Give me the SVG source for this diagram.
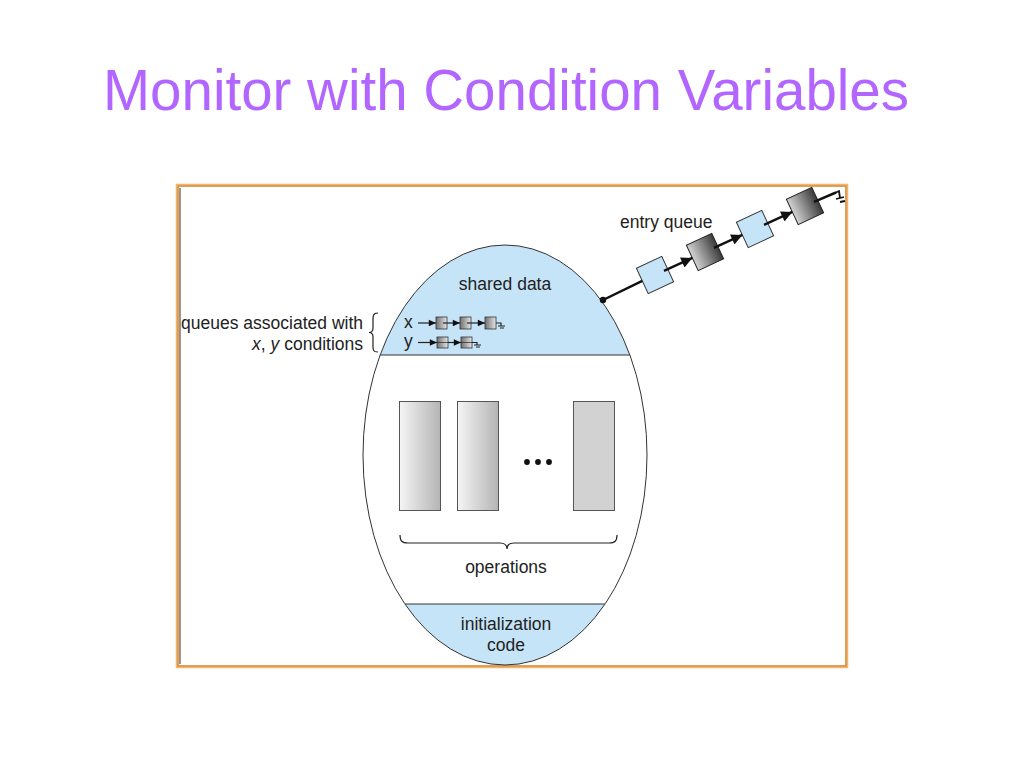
<svg xmlns="http://www.w3.org/2000/svg" width="1024" height="768" viewBox="0 0 1024 768">
<style>
.t{font-family:"Liberation Sans",Arial,sans-serif;font-size:17.5px;fill:#222}
.title{font-family:"Liberation Sans",Arial,sans-serif;font-size:56.5px;fill:#B266FF}
.ln{stroke:#111;stroke-width:2.5;fill:none}
.sl{stroke:#222;stroke-width:1.2;fill:none}
.bl{fill:#C6E4F7;stroke:#333;stroke-width:1}
.dk{fill:url(#gdark);stroke:#222;stroke-width:1}
.sq{fill:url(#gsmall);stroke:#333;stroke-width:0.8}
.op{stroke:#555;stroke-width:1}
</style>
<defs>
<linearGradient id="gdark" x1="0" y1="0" x2="1" y2="0">
<stop offset="0" stop-color="#d4d4d4"/><stop offset="1" stop-color="#3a3a3a"/>
</linearGradient>
<linearGradient id="gsmall" x1="0" y1="0" x2="1" y2="0">
<stop offset="0" stop-color="#707070"/><stop offset="1" stop-color="#e6e6e6"/>
</linearGradient>
<linearGradient id="gop" x1="0" y1="0" x2="1" y2="0">
<stop offset="0" stop-color="#f5f5f5"/><stop offset="1" stop-color="#b4b4b4"/>
</linearGradient>
<clipPath id="ell"><ellipse cx="505" cy="455" rx="142" ry="210"/></clipPath>
<marker id="ah" viewBox="0 0 10 10" refX="10" refY="5" markerWidth="5" markerHeight="4.4" orient="auto" markerUnits="strokeWidth">
<path d="M0,0 L10,5 L0,10 Z" fill="#111"/>
</marker>
<marker id="ahs" viewBox="0 0 10 10" refX="10" refY="5" markerWidth="7" markerHeight="6" orient="auto" markerUnits="strokeWidth">
<path d="M0,0.5 L10,5 L0,9.5 Z" fill="#111"/>
</marker>
</defs>
<rect width="1024" height="768" fill="#fff"/>
<text class="title" x="103" y="110">Monitor with Condition Variables</text>

<g id="frame">
<rect x="176.5" y="184.5" width="671" height="483" fill="#fff" stroke="#F2B56A" stroke-width="1.5"/>
<rect x="178" y="186" width="668" height="480" fill="none" stroke="#D2822A" stroke-width="1.5"/>
<line x1="180" y1="188" x2="180" y2="664" stroke="#3a2a1a" stroke-width="1"/>
</g>

<g id="monitor">
<g clip-path="url(#ell)">
<rect x="360" y="240" width="290" height="115" fill="#C6E4F7"/>
<rect x="360" y="604" width="290" height="70" fill="#C6E4F7"/>
</g>
<line x1="380" y1="355" x2="630" y2="355" stroke="#333" stroke-width="1"/>
<line x1="405" y1="604" x2="605" y2="604" stroke="#333" stroke-width="1"/>
<ellipse cx="505" cy="455" rx="142" ry="210" fill="none" stroke="#333" stroke-width="1"/>
</g>

<g id="shared-data"><text class="t" x="505" y="290" text-anchor="middle">shared data</text></g>

<g id="operations">
<rect class="op" x="399.5" y="401.5" width="41" height="109" fill="url(#gop)"/>
<rect class="op" x="457.5" y="401.5" width="41" height="109" fill="url(#gop)"/>
<rect class="op" x="573.5" y="401.5" width="41" height="109" fill="#d2d2d2"/>
<circle cx="527" cy="462" r="2.9" fill="#111"/>
<circle cx="538" cy="462" r="2.9" fill="#111"/>
<circle cx="549" cy="462" r="2.9" fill="#111"/>
<path class="sl" d="M400,535 C400,541 402,543 408,543 L500,543 C505,543 507,545 507,549 C507,545 509,543 514,543 L609,543 C615,543 617,541 617,535" stroke-width="1"/>
<text class="t" x="506" y="573" text-anchor="middle">operations</text>
</g>

<g id="init-code">
<text class="t" x="506" y="630" text-anchor="middle">initialization</text>
<text class="t" x="506" y="651" text-anchor="middle">code</text>
</g>

<g id="condition-queues">
<text class="t" x="363" y="329" text-anchor="end">queues associated with</text>
<text class="t" x="363" y="350" text-anchor="end"><tspan font-style="italic">x</tspan>, <tspan font-style="italic">y</tspan> conditions</text>
<path class="sl" d="M378,313 C373,313 373,316 373,320 L373,328 C373,331 371,332.5 369,332.5 C371,332.5 373,334 373,337 L373,346 C373,350 373,352 378,352" stroke-width="1"/>
<text class="t" x="404" y="328">x</text>
<text class="t" x="404" y="347">y</text>
<rect class="sq" x="436" y="317" width="11" height="12"/>
<rect class="sq" x="460" y="317" width="11" height="12"/>
<rect class="sq" x="485" y="317" width="11" height="12"/>
<rect class="sq" x="437" y="337" width="11" height="11"/>
<rect class="sq" x="461" y="337" width="11" height="11"/>
</g>

<g id="entry-queue">
<text class="t" x="620" y="228">entry queue</text>
<rect class="bl" x="-14" y="-14" width="28" height="28" transform="translate(655 275) rotate(-25)"/>
<rect class="dk" x="-14" y="-14" width="28" height="28" transform="translate(705 252) rotate(-25)"/>
<rect class="bl" x="-14" y="-14" width="28" height="28" transform="translate(755 229) rotate(-25)"/>
<rect class="dk" x="-14" y="-14" width="28" height="28" transform="translate(805 206) rotate(-25)"/>
</g>

<g id="connectors">
<circle cx="603" cy="300" r="3.2" fill="#111"/>
<line class="ln" x1="603" y1="300" x2="642.3" y2="280.9"/>
<line class="ln" x1="664" y1="270.8" x2="692.3" y2="257.9" marker-end="url(#ah)"/>
<line class="ln" x1="714" y1="247.8" x2="742.3" y2="234.9" marker-end="url(#ah)"/>
<line class="ln" x1="764" y1="224.8" x2="792.3" y2="211.9" marker-end="url(#ah)"/>
<line class="ln" x1="814" y1="201.8" x2="836" y2="192.5"/>
<path d="M835,193 L839,191 L840,198 M836,199 L844,197 M840,202 L845,201" stroke="#111" stroke-width="1.8" fill="none"/>
<line class="sl" x1="418" y1="323" x2="436" y2="323" marker-end="url(#ahs)"/>
<line class="sl" x1="443" y1="323" x2="460" y2="323" marker-end="url(#ahs)"/>
<line class="sl" x1="467" y1="323" x2="485" y2="323" marker-end="url(#ahs)"/>
<path class="sl" d="M496,323 H501 V326 M498,326 H505 M500,328 H504" stroke-width="0.9"/>
<line class="sl" x1="418" y1="342.5" x2="437" y2="342.5" marker-end="url(#ahs)"/>
<line class="sl" x1="448" y1="342.5" x2="461" y2="342.5" marker-end="url(#ahs)"/>
<path class="sl" d="M472,342.5 H477 V345 M474,345 H481 M476,347 H480" stroke-width="0.9"/>
<line x1="437" y1="342.5" x2="448" y2="342.5" stroke="#333" stroke-width="0.8"/>
<line x1="461" y1="342.5" x2="472" y2="342.5" stroke="#333" stroke-width="0.8"/>
</g>
</svg>
